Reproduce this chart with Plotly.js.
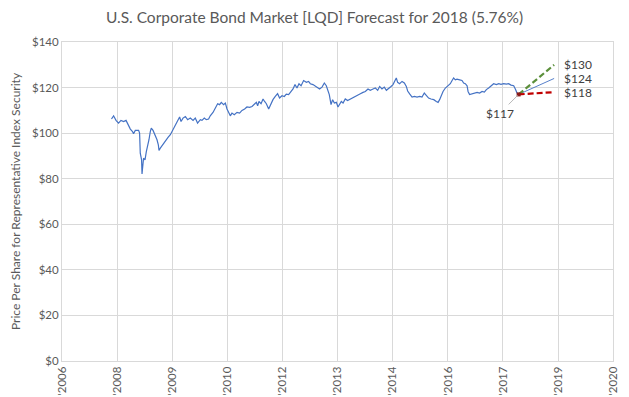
<!DOCTYPE html>
<html>
<head>
<meta charset="utf-8">
<script src="https://cdn.plot.ly/plotly-3.0.1.min.js"></script>
<style>html,body{margin:0;padding:0;background:#fff;}#chart{width:629px;height:397px;}</style>
</head>
<body>
<div id="chart"></div>
<script>
// LQD historical price
const dates = [
"2008-01-02","2008-01-21","2008-02-12","2008-03-06","2008-03-28","2008-04-21","2008-05-13","2008-05-27",
"2008-06-21","2008-07-11","2008-07-20","2008-08-05","2008-09-04","2008-09-13","2008-09-19","2008-10-01",
"2008-10-05","2008-10-10","2008-10-19","2008-11-01","2008-11-13","2008-11-25","2008-12-07","2008-12-19",
"2008-12-28","2009-01-13","2009-01-24","2009-02-05","2009-02-18","2009-03-02","2009-03-08","2009-03-20",
"2009-04-04","2009-04-19","2009-05-07","2009-05-29","2009-06-19","2009-07-04","2009-07-25","2009-08-12",
"2009-08-27","2009-09-11","2009-09-24","2009-10-12","2009-11-02","2009-11-23","2009-12-17","2010-01-11",
"2010-01-31","2010-02-21","2010-03-18","2010-04-02","2010-04-23","2010-05-11","2010-06-01","2010-06-16",
"2010-07-11","2010-08-01","2010-08-22","2010-09-09","2010-09-24","2010-10-15","2010-10-31","2010-11-15",
"2010-11-30","2010-12-15","2010-12-30","2011-01-20","2011-02-14","2011-03-09","2011-03-31","2011-04-24",
"2011-05-15","2011-06-08","2011-06-30","2011-07-21","2011-08-08","2011-08-20","2011-09-01","2011-09-20",
"2011-10-08","2011-10-22","2011-11-07","2011-11-28","2011-12-19","2012-01-06","2012-01-27","2012-02-17",
"2012-03-06","2012-03-28","2012-04-18","2012-05-06","2012-05-27","2012-06-18","2012-07-06","2012-07-24",
"2012-08-11","2012-08-29","2012-09-17","2012-10-10","2012-11-04","2012-11-24","2012-12-10","2013-01-03",
"2013-01-24","2013-02-14","2013-03-04","2013-03-26","2013-04-16","2013-05-04","2013-05-16","2013-05-31",
"2013-06-16","2013-06-30","2013-07-16","2013-08-03","2013-08-18","2013-09-02","2013-09-17","2013-10-03",
"2013-10-23","2013-11-13","2013-12-08","2014-01-02","2014-01-22","2014-02-12","2014-03-09","2014-04-02",
"2014-04-23","2014-05-17","2014-06-07","2014-07-02","2014-07-23","2014-08-13","2014-08-31","2014-09-21",
"2014-10-12","2014-10-31","2014-11-20","2014-12-12","2014-12-30","2015-01-17","2015-01-29","2015-02-10",
"2015-02-28","2015-03-22","2015-04-12","2015-04-30","2015-05-12","2015-05-30","2015-06-21","2015-07-12",
"2015-08-05","2015-08-29","2015-09-19","2015-10-10","2015-10-28","2015-11-18","2015-12-10","2016-01-04",
"2016-01-27","2016-02-12","2016-02-26","2016-03-10","2016-03-28","2016-04-18","2016-05-09","2016-06-02",
"2016-06-18","2016-07-02","2016-07-18","2016-08-02","2016-08-26","2016-09-16","2016-10-01","2016-10-16",
"2016-11-01","2016-11-10","2016-11-24","2016-12-16","2017-01-06","2017-01-31","2017-02-23","2017-03-17",
"2017-04-07","2017-04-25","2017-05-16","2017-06-07","2017-06-30","2017-07-25","2017-08-15","2017-09-05",
"2017-09-29","2017-10-23","2017-11-13","2017-12-05","2017-12-29","2018-01-13","2018-01-28","2018-02-12"
];
const prices = [
106.2,107.6,105.6,104.4,105.6,105.1,105.6,104.0,
101.8,100.7,99.7,101.2,101.2,100.0,91.2,88.3,
82.1,84.6,89.0,88.3,91.9,93.9,97.1,100.7,
102.2,101.2,100.0,98.5,97.1,94.9,92.4,93.4,
94.4,95.6,97.1,98.1,99.3,100.7,102.9,104.4,
106.2,107.1,105.1,106.6,107.3,105.9,106.6,105.6,
106.6,104.4,105.9,105.6,106.6,105.9,106.2,107.6,
109.1,111.0,112.9,112.5,113.5,112.5,113.2,110.6,
109.1,107.6,108.8,108.1,109.1,108.8,110.0,110.6,
111.5,111.3,111.7,112.9,113.5,112.0,113.9,112.9,
115.0,113.9,112.9,110.6,113.2,114.7,116.1,117.3,
115.4,116.4,116.1,117.1,116.9,118.3,119.4,121.3,
119.8,121.7,120.8,123.1,122.3,122.7,121.7,121.3,
120.5,119.8,119.4,120.2,122.0,120.8,119.1,116.9,
112.5,114.7,113.2,113.5,111.5,112.9,113.9,113.2,
115.0,114.3,115.0,115.4,116.1,116.9,117.3,117.9,
118.3,119.4,118.8,119.4,119.8,118.8,120.5,119.4,
120.2,118.8,119.8,120.5,121.3,122.7,124.2,122.3,
121.7,122.7,122.0,120.5,118.5,117.2,115.8,116.1,
115.8,116.1,115.8,117.6,116.4,115.4,115.0,114.7,
113.9,113.5,114.7,116.4,118.3,119.8,120.8,121.7,
123.1,124.2,123.4,123.7,123.4,123.1,122.0,121.7,
120.8,118.3,116.9,117.3,117.6,117.9,117.6,118.3,
118.0,119.1,119.8,120.8,121.7,121.3,121.7,121.4,
121.7,121.5,121.7,121.1,120.8,119.4,117.6,117.3
];

// Forecast for 2018
const forecastDates = ["2018-02-12", "2018-12-31"];
const forecastStart = 117;
const forecastHigh = 130;
const forecastMid = 124;
const forecastLow = 118;

// Axis ticks (Excel date axis, major unit 500 days)
const xTickDates = ["2006-10-10","2008-02-22","2009-07-06","2010-11-18","2012-04-01","2013-08-14",
                    "2014-12-27","2016-05-10","2017-09-22","2019-02-04","2020-06-17"];
const xTickText = ["'2006","'2008","'2009","'2010","'2012","'2013","'2014","'2016","'2017","'2019","'2020"];
const yTickVals = [0,20,40,60,80,100,120,140];
const yTickText = yTickVals.map(v => "$" + v);

const FONT = "Lato, 'Open Sans', sans-serif";
const grid = "#D9D9D9";

const traces = [
  {x: dates, y: prices, type: "scatter", mode: "lines",
   line: {color: "#4472C4", width: 1.2}, hoverinfo: "skip"},
  {x: forecastDates, y: [forecastStart, forecastMid], type: "scatter", mode: "lines",
   line: {color: "#4472C4", width: 0.9}, hoverinfo: "skip"},
  {x: forecastDates, y: [forecastStart, forecastHigh], type: "scatter", mode: "lines",
   line: {color: "#5B8F3A", width: 2.2, dash: "6px,3px"}, hoverinfo: "skip"},
  {x: forecastDates, y: [forecastStart, forecastLow], type: "scatter", mode: "lines",
   line: {color: "#C00000", width: 2.2, dash: "6px,3px"}, hoverinfo: "skip"},
  {x: [forecastDates[0]], y: [forecastStart], type: "scatter", mode: "markers",
   marker: {color: "#8B1A1A", size: 4, symbol: "square"}, hoverinfo: "skip"}
];

const endLabels = [forecastHigh, forecastMid, forecastLow].map(v => ({
  x: forecastDates[1], y: v, xref: "x", yref: "y", text: "$" + v, showarrow: false,
  xanchor: "left", yanchor: "middle", xshift: 8,
  font: {family: FONT, size: 12, color: "#404040"}
}));

const layout = {
  width: 629, height: 397,
  margin: {l: 62, r: 16, t: 42, b: 36},
  paper_bgcolor: "#fff", plot_bgcolor: "#fff",
  showlegend: false,
  title: {text: "U.S. Corporate Bond Market [LQD] Forecast for 2018 (5.76%)",
          font: {family: FONT, size: 15.5, color: "#595959"}, x: 0.5, xanchor: "center", y: 0.955, yanchor: "middle"},
  xaxis: {
    type: "date", range: [xTickDates[0], xTickDates[xTickDates.length - 1]],
    tickmode: "array", tickvals: xTickDates, ticktext: xTickText, tickangle: -90,
    showgrid: true, gridcolor: grid, gridwidth: 1,
    showline: true, linecolor: grid, mirror: true, zeroline: false,
    ticks: "", ticklen: 0,
    tickfont: {family: FONT, size: 11.5, color: "#595959"}
  },
  yaxis: {
    range: [0, 140], tickmode: "array", tickvals: yTickVals, ticktext: yTickText,
    showgrid: true, gridcolor: grid, gridwidth: 1,
    showline: true, linecolor: grid, mirror: true, zeroline: false,
    ticks: "", ticklen: 0,
    tickfont: {family: FONT, size: 11.5, color: "#595959"},
    title: {text: "Price Per Share for Representative Index Security", standoff: 8,
            font: {family: FONT, size: 12, color: "#595959"}}
  },
  annotations: endLabels.concat([{
    x: forecastDates[0], y: forecastStart, xref: "x", yref: "y", text: "$" + forecastStart,
    showarrow: true, arrowhead: 0, arrowwidth: 0.8, arrowcolor: "#A6A6A6",
    ax: -19, ay: 19, standoff: 1,
    font: {family: FONT, size: 12, color: "#404040"}
  }])
};

Plotly.newPlot("chart", traces, layout, {displayModeBar: false, staticPlot: true});
</script>
</body>
</html>
